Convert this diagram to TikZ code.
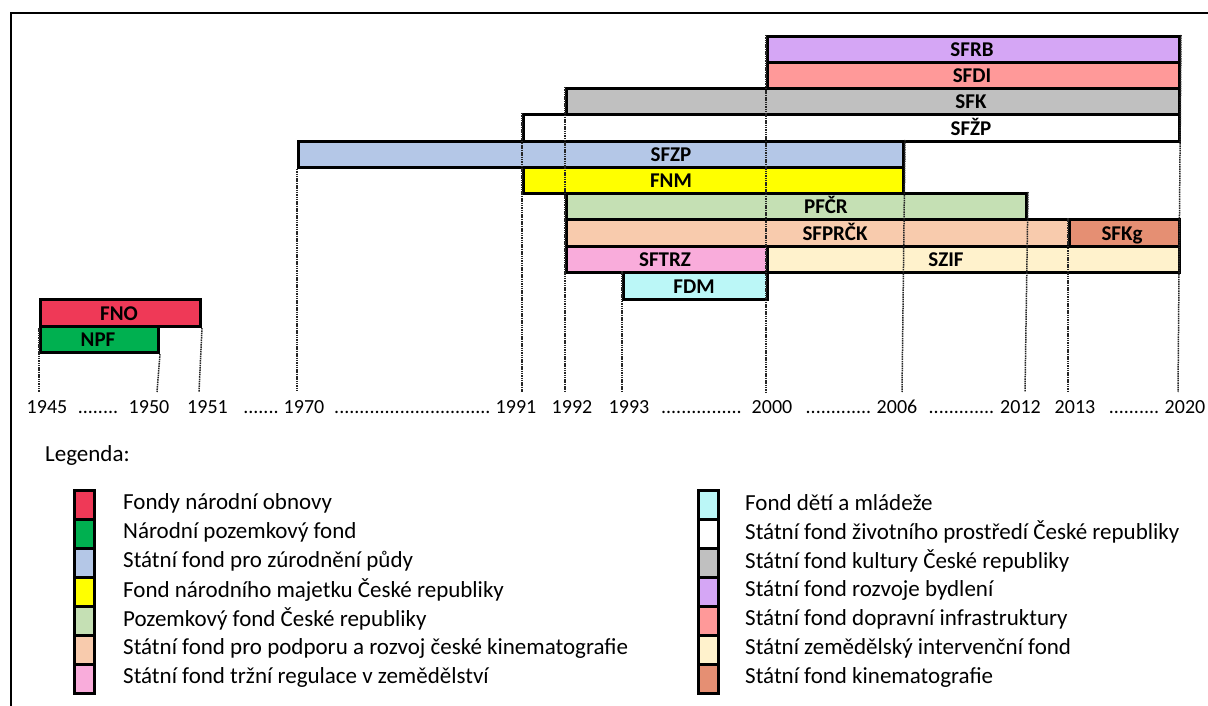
\documentclass[tikz,border=0pt]{standalone}
\usepackage{fontspec}
\setmainfont{Carlito}
\definecolor{cSFRB}{RGB}{213,166,245}
\definecolor{cSFDI}{RGB}{255,153,153}
\definecolor{cSFK}{RGB}{192,192,192}
\definecolor{cSFZP}{RGB}{180,199,231}
\definecolor{cFNM}{RGB}{255,255,0}
\definecolor{cPFCR}{RGB}{197,224,180}
\definecolor{cSFPRCK}{RGB}{248,203,173}
\definecolor{cSFKg}{RGB}{229,143,115}
\definecolor{cSFTRZ}{RGB}{249,172,219}
\definecolor{cSZIF}{RGB}{255,242,204}
\definecolor{cFDM}{RGB}{187,247,247}
\definecolor{cFNO}{RGB}{239,57,87}
\definecolor{cNPF}{RGB}{0,176,80}
\tikzset{
  barbox/.style={draw=black, line width=3pt, inner sep=0pt, anchor=north west},
  barlabel/.style={font=\fontsize{21}{21}\selectfont\bfseries, inner sep=0pt, text height=13.5pt, text depth=0pt, yshift=-1.5pt},
  yearlabel/.style={font=\fontsize{20}{20}\selectfont, inner sep=0pt, text height=13pt, text depth=0pt},
  legtext/.style={font=\fontsize{23}{23}\selectfont, inner sep=0pt, anchor=west},
  legbox/.style={draw=black, line width=3pt, inner sep=0pt, minimum width=20pt, minimum height=29.1pt, anchor=north west},
  tick/.style={line width=1.5pt, black!85, dash pattern=on 1.5pt off 0.8pt},
  frame/.style={line width=1.5pt, black}
}
\begin{document}
\begin{tikzpicture}[x=1pt,y=-1pt]
\useasboundingbox (0,0) rectangle (1208,706);
% frame
\coordinate (fTR) at (1208,13);
\coordinate (fTL) at (11,13);
\coordinate (fBL) at (11,706);
\draw[frame] (fTR) -- (fTL) -- (fBL);

% bars
\node[barbox, fill=cSFRB, minimum width=412pt, minimum height=26pt] (sfrb) at (766,35) {};
\node[barbox, fill=cSFDI, minimum width=412pt, minimum height=26pt] (sfdi) at (766,61) {};
\node[barbox, fill=cSFK, minimum width=613pt, minimum height=26pt] (sfk) at (565,87) {};
\node[barbox, fill=white, minimum width=656pt, minimum height=27pt] (sfzp2) at (522,113) {};
\node[barbox, fill=cSFZP, minimum width=605pt, minimum height=26pt] (sfzp) at (297,140) {};
\node[barbox, fill=cFNM, minimum width=380pt, minimum height=26pt] (fnm) at (522,166) {};
\node[barbox, fill=cPFCR, minimum width=460pt, minimum height=26pt] (pfcr) at (565,192) {};
\node[barbox, fill=cSFPRCK, minimum width=503pt, minimum height=27pt] (sfprck) at (565,218) {};
\node[barbox, fill=cSFKg, minimum width=110pt, minimum height=27pt] (sfkg) at (1068,218) {};
\node[barbox, fill=cSFTRZ, minimum width=201pt, minimum height=26pt] (sftrz) at (565,245) {};
\node[barbox, fill=cSZIF, minimum width=412pt, minimum height=26pt] (szif) at (766,245) {};
\node[barbox, fill=cFDM, minimum width=144pt, minimum height=27pt] (fdm) at (622,271) {};
\node[barbox, fill=cFNO, minimum width=160pt, minimum height=27pt] (fno) at (39,298) {};
\node[barbox, fill=cNPF, minimum width=118pt, minimum height=26pt] (npf) at (39,325) {};

% dashed year lines
\coordinate (b1945) at (39,392);
\coordinate (b1950) at (157,392);
\coordinate (b1951) at (199,392);
\coordinate (b1970) at (297,392);
\coordinate (b1991) at (522,392);
\coordinate (b1992) at (565,392);
\coordinate (b1993) at (622,392);
\coordinate (b2000) at (766,392);
\coordinate (b2006) at (902,392);
\coordinate (b2012) at (1025,392);
\coordinate (b2013) at (1068,392);
\coordinate (b2020) at (1178,392);
\draw[tick] (fno.south west) -- (b1945);
\draw[tick] (npf.south east) -- (b1950);
\draw[tick] (fno.south east) -- (b1951);
\draw[tick] (sfzp.south west) -- (b1970);
\draw[tick] (sfzp2.north west) -- (b1991);
\draw[tick] (sfk.north west) -- (b1992);
\draw[tick] (fdm.north west) -- (b1993);
\draw[tick] (sfrb.north west) -- (b2000);
\draw[tick] (sfzp.north east) -- (b2006);
\draw[tick] (pfcr.north east) -- (b2012);
\draw[tick] (sfkg.north west) -- (b2013);
\draw[tick] (sfrb.north east) -- (b2020);

% bar labels
\node[barlabel] (l-sfrb) at (972,48) {SFRB};
\node[barlabel] (l-sfdi) at (972,74) {SFDI};
\node[barlabel] (l-sfk) at (971,100) {SFK};
\node[barlabel] (l-sfzp2) at (971,127) {SFŽP};
\node[barlabel] (l-sfzp) at (671,153) {SFZP};
\node[barlabel] (l-fnm) at (671,179) {FNM};
\node[barlabel] (l-pfcr) at (826,205) {PFČR};
\node[barlabel] (l-sfprck) at (835,232) {SFPRČK};
\node[barlabel] (l-sfkg) at (1122,232) {SFKg};
\node[barlabel] (l-sftrz) at (665,258) {SFTRZ};
\node[barlabel] (l-szif) at (946,258) {SZIF};
\node[barlabel] (l-fdm) at (694,285) {FDM};
\node[barlabel] (l-fno) at (119,312) {FNO};
\node[barlabel] (l-npf) at (98,338) {NPF};

% year axis labels
\node[yearlabel] (y1945) at (47,407) {1945};
\node[yearlabel] (d1) at (98,407) {........};
\node[yearlabel] (y1950) at (149,407) {1950};
\node[yearlabel] (y1951) at (207.5,407) {1951};
\node[yearlabel] (d2) at (261,407) {.......};
\node[yearlabel] (y1970) at (304,407) {1970};
\node[yearlabel] (d3) at (412.5,407) {...............................};
\node[yearlabel] (y1991) at (516,407) {1991};
\node[yearlabel] (y1992) at (572,407) {1992};
\node[yearlabel] (y1993) at (629,407) {1993};
\node[yearlabel] (d4) at (701.5,407) {................};
\node[yearlabel] (y2000) at (772,407) {2000};
\node[yearlabel] (d5) at (838.5,407) {.............};
\node[yearlabel] (y2006) at (897,407) {2006};
\node[yearlabel] (d6) at (961.5,407) {.............};
\node[yearlabel] (y2012) at (1020.5,407) {2012};
\node[yearlabel] (y2013) at (1075,407) {2013};
\node[yearlabel] (d7) at (1134,407) {..........};
\node[yearlabel] (y2020) at (1185,407) {2020};

% legend
\node[legtext] (leg) at (45,455) {Legenda:};
\node[legbox, fill=cFNO] (k1) at (73,488.5) {};
\node[legbox, fill=cNPF] (k2) at (73,517.6) {};
\node[legbox, fill=cSFZP] (k3) at (73,546.7) {};
\node[legbox, fill=cFNM] (k4) at (73,575.8) {};
\node[legbox, fill=cPFCR] (k5) at (73,604.9) {};
\node[legbox, fill=cSFPRCK] (k6) at (73,634) {};
\node[legbox, fill=cSFTRZ] (k7) at (73,663.1) {};
\node[legtext] (t1) at (123,503) {Fondy národní obnovy};
\node[legtext] (t2) at (123,532) {Národní pozemkový fond};
\node[legtext] (t3) at (123,561) {Státní fond pro zúrodnění půdy};
\node[legtext] (t4) at (123,590) {Fond národního majetku České republiky};
\node[legtext] (t5) at (123,619) {Pozemkový fond České republiky};
\node[legtext] (t6) at (123,648) {Státní fond pro podporu a rozvoj české kinematografie};
\node[legtext] (t7) at (123,677) {Státní fond tržní regulace v zemědělství};

\node[legbox, fill=cFDM] (r1) at (697,488.5) {};
\node[legbox, fill=white] (r2) at (697,517.6) {};
\node[legbox, fill=cSFK] (r3) at (697,546.7) {};
\node[legbox, fill=cSFRB] (r4) at (697,575.8) {};
\node[legbox, fill=cSFDI] (r5) at (697,604.9) {};
\node[legbox, fill=cSZIF] (r6) at (697,634) {};
\node[legbox, fill=cSFKg] (r7) at (697,663.1) {};
\node[legtext] (u1) at (745,503) {Fond dětí a mládeže};
\node[legtext] (u2) at (745,532) {Státní fond životního prostředí České republiky};
\node[legtext] (u3) at (745,561) {Státní fond kultury České republiky};
\node[legtext] (u4) at (745,590) {Státní fond rozvoje bydlení};
\node[legtext] (u5) at (745,619) {Státní fond dopravní infrastruktury};
\node[legtext] (u6) at (745,648) {Státní zemědělský intervenční fond};
\node[legtext] (u7) at (745,677) {Státní fond kinematografie};
\end{tikzpicture}
\end{document}
